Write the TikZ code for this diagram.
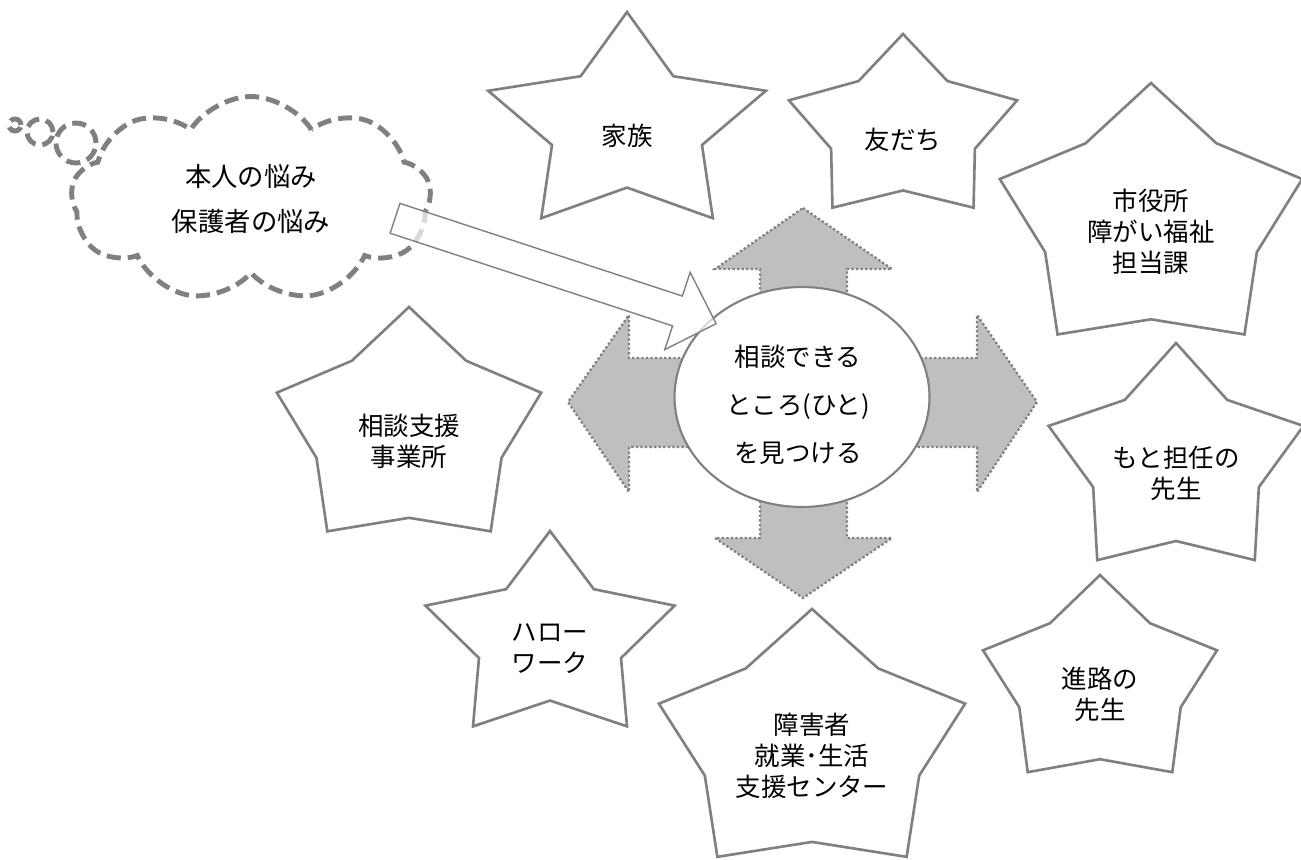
\documentclass[tikz,border=0pt]{standalone}
\usepackage{fontspec}
\setmainfont{Noto Sans CJK JP}
\usetikzlibrary{shapes.geometric,shapes.symbols,shapes.arrows}

\begin{document}
\begin{tikzpicture}[x=0.02cm,y=-0.02cm,
    starline/.style={draw=gray,line width=1.5pt,line join=miter,fill=white},
    startext/.style={align=center,inner sep=0pt,font=\fontsize{14.5}{17.6}\selectfont},
    bubble/.style={draw=gray,line width=2.8pt,dash pattern=on 8pt off 4pt,fill=white},
    crossarrow/.style={fill=gray!50,draw=gray,line width=1.3pt,dash pattern=on 1.3pt off 1.3pt},
    hubstyle/.style={ellipse,draw=gray,line width=1.2pt,fill=white,minimum width=5.1cm,minimum height=4.4cm},
    outarrow/.style={single arrow,draw=gray,line width=0.8pt,fill=white,fill opacity=0.7,
      minimum height=6.76cm,inner xsep=0pt,inner ysep=0.3cm,single arrow head extend=0.5cm}]
    \useasboundingbox (0,0) rectangle (1301,859);

    % worries
    \node[bubble,circle,minimum size=0.24cm,inner sep=0pt] (dot1) at (15,125) {};
    \node[bubble,circle,minimum size=0.52cm,inner sep=0pt] (dot2) at (40,132) {};
    \node[bubble,circle,minimum size=0.8cm,inner sep=0pt] (dot3) at (76,143) {};
    \node[bubble,cloud,cloud puffs=9,cloud puff arc=115,aspect=1.4,minimum width=7.2cm,minimum height=4.1cm,
      inner sep=0pt,align=center,font=\fontsize{15}{26}\selectfont] (worry) at (251,199) {本人の悩み\\保護者の悩み};

    % four-way arrow
    \draw[crossarrow] (803,208) -- (892,269) -- (847,269) -- (847,358) -- (977,358) -- (977,315)
      -- (1037,402) -- (977,492) -- (977,447) -- (847,447) -- (847,538) -- (892,538)
      -- (803,598) -- (715,538) -- (760,538) -- (760,447) -- (629,447) -- (629,492)
      -- (568,402) -- (629,315) -- (629,358) -- (760,358) -- (760,269) -- (715,269) -- cycle;
    \node[hubstyle] (hub) at (802,397) {};
    \node[align=center,font=\fontsize{14.5}{27.3}\selectfont] (hubtext) at (798,405) {相談できる\\ところ(ひと)\\を見つける};

    \coordinate (wtail) at (388,216);
    \path (wtail) -- (hub.141) node[midway,sloped,outarrow] (push) {};

    % places to ask
    \foreach \nm/\cx/\cy/\a/\b/\r/\txt in {
        kazoku/627/126/146/114/0.54/家族,
        tomodachi/903/130/120/96/0.63/友だち,
        shiyakusho/1151/222/159/139/0.70/{市役所\\障がい福祉\\担当課},
        tannin/1176/463/134/120/0.65/{もと担任の\\先生},
        shinro/1100/684/123/109/0.69/{進路の\\先生},
        center/812/746/161/137/0.70/{障害者\\就業･生活\\支援センター},
        hellowork/550/639/131/108/0.57/{ハロー\\ワーク},
        soudan/409/431/139/124/0.70/{相談支援\\事業所}} {
      \draw[starline] plot[samples at={0,...,9},variable=\k]
        ({\cx+\a*(1-(1-\r)*mod(\k,2))*cos(90+36*\k)},{\cy-\b*(1-(1-\r)*mod(\k,2))*sin(90+36*\k)}) -- cycle;
      \node[startext] (\nm) at (\cx,\cy+10) {\txt};
    }
  \end{tikzpicture}
\end{document}
